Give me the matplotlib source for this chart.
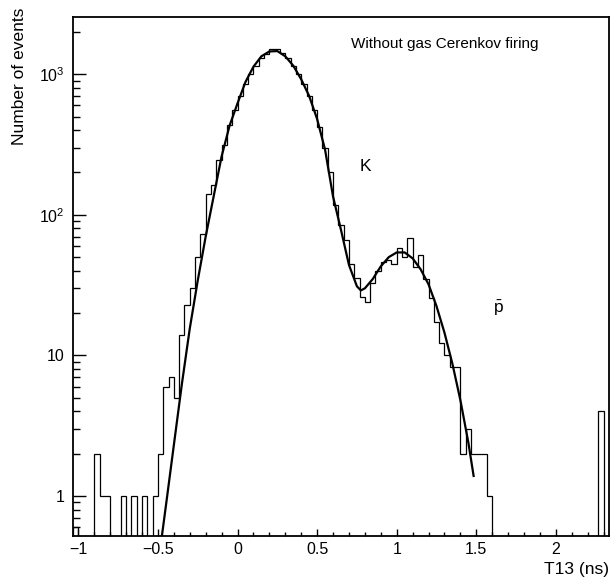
import numpy as np
import matplotlib
matplotlib.use("Agg")
import matplotlib.pyplot as plt
from matplotlib.ticker import FixedLocator, LogLocator, NullFormatter

plt.rcParams['font.family'] = ['Liberation Sans', 'DejaVu Sans']

# histogram: 101 bins of 1/30 ns
x_lo, x_hi = -31 / 30, 70 / 30
counts = [
    0.6, 0, 0, 0, 2, 1, 1, 0, 0, 1,           # 0-9
    0, 1, 0, 1, 0, 1, 2, 6, 7, 5,             # 10-19
    14, 23, 30, 50, 73, 140, 162, 245, 312, 433,   # 20-29
    555, 700, 850, 1000, 1150, 1300, 1400, 1500, 1500, 1420,  # 30-39
    1300, 1150, 1000, 850, 700, 560, 420, 300, 200, 117,  # 40-49
    84, 66, 45, 35.5, 26, 24, 33, 40, 46, 48,  # 50-59
    45, 58, 50, 68, 42.5, 51.6, 35, 25.4, 17.3, 12.2,  # 60-69
    10, 8.3, 8.3, 2, 3, 2, 2, 2, 1, 0,         # 70-79
    0, 0, 0, 0, 0, 0, 0, 0, 0, 0,              # 80-89
    0, 0, 0, 0, 0, 0, 0, 0, 0, 4,              # 90-99
    0,
]

# fitted curve
fit_x = [-0.475, -0.45, -0.4, -0.35, -0.3, -0.25, -0.2, -0.15, -0.1, -0.05,
         0.0, 0.05, 0.1, 0.15, 0.2, 0.25, 0.3, 0.35, 0.4, 0.45,
         0.5, 0.55, 0.6, 0.65, 0.7, 0.75, 0.775, 0.8, 0.85, 0.9,
         0.95, 1.0, 1.05, 1.1, 1.15, 1.2, 1.25, 1.3, 1.35, 1.4,
         1.45, 1.483]
fit_y = [0.52, 0.85, 2.3, 6.2, 15.5, 34, 70, 135, 260, 430,
         620, 880, 1130, 1340, 1450, 1460, 1340, 1150, 920, 700,
         480, 290, 135, 78, 44, 31, 29, 30, 35, 43,
         50, 54, 54, 49, 41, 32, 22.4, 14.5, 8.7, 4.8,
         2.4, 1.39]

fig = plt.figure(figsize=(6.14, 5.78), dpi=100)
ax = fig.add_axes([73 / 614, 1 - 536 / 578, 536 / 614, 519 / 578])

edges = np.linspace(x_lo, x_hi, len(counts) + 1)
ax.set_yscale('log', nonpositive='clip')
ax.stairs(counts, edges, color='black', linewidth=0.9, baseline=1e-3)
ax.plot(fit_x, fit_y, color='black', linewidth=1.6)

ax.set_xlim(x_lo, x_hi)
ax.set_ylim(0.52, 2550)

ax.xaxis.set_major_locator(FixedLocator([-1, -0.5, 0, 0.5, 1, 1.5, 2]))
ax.xaxis.set_minor_locator(FixedLocator(np.arange(-1.0, 2.35, 0.1)))
ax.set_xticklabels(['\u22121', '\u22120.5', '0', '0.5', '1', '1.5', '2'])
ax.yaxis.set_major_locator(FixedLocator([1, 10, 100, 1000]))
ax.set_yticklabels(['1', '10', r'$\mathregular{10^{2}}$', r'$\mathregular{10^{3}}$'])
ax.yaxis.set_minor_locator(LogLocator(base=10, subs=np.arange(2, 10)))
ax.yaxis.set_minor_formatter(NullFormatter())

ax.tick_params(axis='x', which='major', direction='in', length=5, width=1, labelsize=11.5, pad=4)
ax.tick_params(axis='x', which='minor', direction='in', length=3, width=1)
ax.tick_params(axis='y', which='major', direction='in', length=9, width=1, labelsize=11.5, pad=6)
ax.tick_params(axis='y', which='minor', direction='in', length=5, width=1)
for s in ax.spines.values():
    s.set_linewidth(1.3)

ax.text(1.0, -0.065, 'T13 (ns)', transform=ax.transAxes, ha='right', va='center', fontsize=12.5)
fig.text(20 / 614, 1 - 8 / 578, 'Number of events', rotation=90, ha='center', va='top', fontsize=12.5)

ax.text(0.71, 1650, 'Without gas Cerenkov firing', ha='left', va='center', fontsize=11)
ax.text(0.805, 219, 'K', ha='center', va='center', fontsize=12.5)
ax.text(1.64, 21.5, r'$\mathregular{\bar{p}}$', ha='center', va='center', fontsize=12.5)

fig.savefig('out.png', dpi=100)
